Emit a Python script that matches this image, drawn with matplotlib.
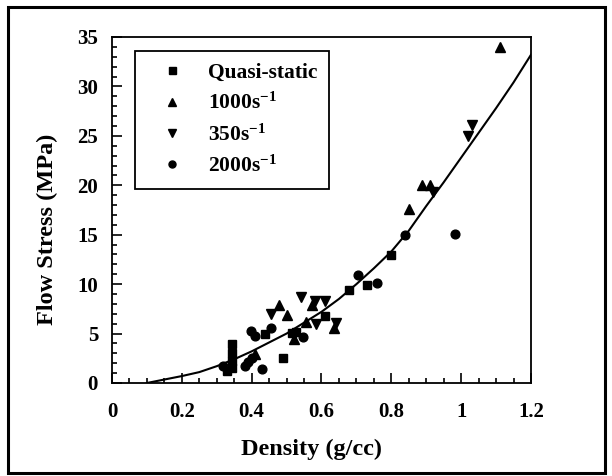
import matplotlib
matplotlib.use("Agg")
import matplotlib.pyplot as plt
import matplotlib as mpl
from matplotlib.ticker import MultipleLocator, FuncFormatter
from matplotlib.patches import Rectangle

mpl.rcParams.update({
    "font.family": ["Liberation Serif", "DejaVu Serif"],
    "font.weight": "bold",
    "mathtext.fontset": "custom",
    "mathtext.rm": "Liberation Serif:bold",
    "mathtext.it": "Liberation Serif:bold",
    "mathtext.bf": "Liberation Serif:bold",
})

# quasi-static (squares)
qs_x = [0.33, 0.345, 0.345, 0.345, 0.345, 0.437, 0.489, 0.515, 0.528, 0.611, 0.678, 0.73, 0.80]
qs_y = [1.2, 1.5, 2.2, 3.0, 3.9, 5.0, 2.5, 5.1, 5.2, 6.8, 9.4, 9.9, 12.9]

# 1000/s (up triangles)
r1000_x = [0.41, 0.479, 0.50, 0.52, 0.557, 0.572, 0.637, 0.851, 0.887, 0.910, 1.111]
r1000_y = [2.9, 7.9, 6.9, 4.5, 6.2, 7.9, 5.6, 17.6, 20.0, 20.0, 34.0]

# 350/s (down triangles)
r350_x = [0.455, 0.54, 0.58, 0.585, 0.61, 0.642, 0.92, 1.021, 1.03]
r350_y = [7.0, 8.7, 8.3, 6.0, 8.3, 6.1, 19.3, 25.0, 26.1]

# 2000/s (circles)
r2000_x = [0.318, 0.38, 0.39, 0.40, 0.43, 0.397, 0.41, 0.456, 0.548, 0.705, 0.76, 0.84, 0.982]
r2000_y = [1.7, 1.7, 2.1, 2.5, 1.4, 5.3, 4.8, 5.6, 4.7, 10.9, 10.1, 15.0, 15.1]

# fitted curve
fit_x = [0.10, 0.15, 0.20, 0.25, 0.30, 0.35, 0.40, 0.45, 0.50, 0.55, 0.60, 0.65,
         0.70, 0.75, 0.80, 0.85, 0.90, 0.95, 1.00, 1.05, 1.10, 1.15, 1.20]
fit_y = [0.0, 0.35, 0.7, 1.1, 1.7, 2.4, 3.2, 4.1, 5.0, 6.1, 7.2, 8.5,
         10.0, 11.6, 13.3, 15.4, 17.9, 20.3, 22.8, 25.3, 27.8, 30.4, 33.2]

fig = plt.figure(figsize=(6.12, 4.76), dpi=100)
ax = fig.add_axes([0.183, 0.1954, 0.6846, 0.7269])

ms = 6.3
ax.plot(qs_x, qs_y, "s", color="black", ms=ms, label="Quasi-static")
ax.plot(r1000_x, r1000_y, "^", color="black", ms=ms + 1, label=r"1000s$^{-1}$")
ax.plot(r350_x, r350_y, "v", color="black", ms=ms + 1, label=r"350s$^{-1}$")
ax.plot(r2000_x, r2000_y, "o", color="black", ms=ms, label=r"2000s$^{-1}$")
ax.plot(fit_x, fit_y, "-", color="black", lw=1.5)

ax.set_xlim(0, 1.2)
ax.set_ylim(0, 35)
ax.xaxis.set_major_locator(MultipleLocator(0.2))
ax.xaxis.set_minor_locator(MultipleLocator(0.05))
ax.yaxis.set_major_locator(MultipleLocator(5))
ax.yaxis.set_minor_locator(MultipleLocator(1))
ax.xaxis.set_major_formatter(FuncFormatter(lambda v, p: f"{v:g}"))
ax.tick_params(which="both", direction="in", top=False, right=False, width=1.2)
ax.tick_params(which="major", length=7, labelsize=15)
ax.tick_params(which="minor", length=3.5)
ax.tick_params(axis="x", pad=14)
ax.tick_params(axis="y", pad=10)
for s in ax.spines.values():
    s.set_linewidth(1.3)

ax.set_xlabel("Density (g/cc)", fontsize=17.5, fontweight="bold")
ax.set_ylabel("Flow Stress (MPa)", fontsize=17.5, fontweight="bold")
ax.xaxis.set_label_coords(0.475, -0.16)
ax.yaxis.set_label_coords(-0.128, 0.445)

leg = ax.legend(loc="upper left", bbox_to_anchor=(0.055, 0.96), borderaxespad=0,
                fontsize=15.5, fancybox=False, edgecolor="black", framealpha=1,
                markerscale=0.8, handlelength=2.3, handletextpad=0.53,
                labelspacing=0.47, borderpad=0.55)
leg.get_frame().set_linewidth(1.3)

# outer frame around the whole figure
fig.patches.append(Rectangle((0.013, 0.0063), 0.9756, 0.9787, transform=fig.transFigure,
                             fill=False, edgecolor="black", lw=2.2))

fig.savefig("out.png", dpi=100)
